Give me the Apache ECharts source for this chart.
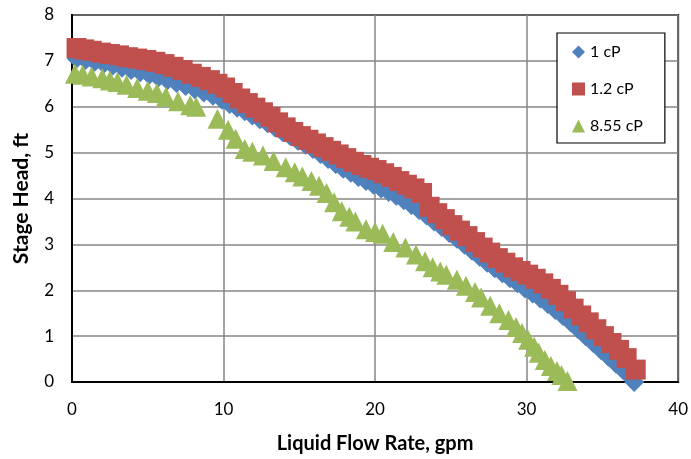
<!DOCTYPE html>
<html>
<head>
<meta charset="utf-8">
<script src="https://cdn.jsdelivr.net/npm/echarts@6/dist/echarts.min.js"></script>
<style>
  html, body { margin: 0; padding: 0; background: #fff; }
  #chart { width: 691px; height: 459px; }
</style>
</head>
<body>
<div id="chart"></div>
<script>
// Stage head vs liquid flow rate for three fluid viscosities
const seriesNames = ['1 cP', '1.2 cP', '8.55 cP'];

// 1 cP: [flow rate gpm, head ft]
const flow1cP = [0.3,0.9,1.5,2.1,2.7,3.3,3.9,4.5,5.1,5.7,6.3,6.9,7.5,8.1,8.7,9.3,9.9,10.4,10.9,11.4,11.9,12.4,12.9,13.4,13.9,14.4,14.9,15.4,15.9,16.4,16.9,17.4,17.9,18.4,18.9,19.4,19.9,20.4,20.9,21.4,21.9,22.4,22.9,23.4,23.9,24.4,24.9,25.4,25.9,26.4,26.9,27.4,27.9,28.4,28.9,29.4,29.9,30.4,30.9,31.4,31.9,32.4,32.9,33.4,33.9,34.4,34.9,35.4,35.9,36.4,36.9,37.1];
const head1cP = [7.05,7.02,6.98,6.94,6.9,6.85,6.8,6.75,6.7,6.64,6.58,6.52,6.45,6.38,6.31,6.24,6.15,6.06,5.98,5.9,5.81,5.73,5.64,5.55,5.45,5.36,5.26,5.17,5.08,4.97,4.86,4.75,4.65,4.56,4.47,4.38,4.3,4.22,4.14,4.06,3.96,3.86,3.75,3.63,3.5,3.38,3.25,3.12,2.99,2.86,2.73,2.6,2.48,2.37,2.26,2.15,2.04,1.93,1.82,1.7,1.57,1.44,1.3,1.15,1.0,0.85,0.7,0.55,0.4,0.25,0.1,0.0];

// 1.2 cP
const flow12cP = [0.3,0.8,1.3,1.9,2.5,3.1,3.7,4.3,4.9,5.5,6.1,6.7,7.3,7.9,8.5,9.1,9.6,10.1,10.6,11.1,11.6,12.1,12.6,13.1,13.6,14.1,14.6,15.1,15.6,16.1,16.6,17.1,17.6,18.1,18.6,19.1,19.6,20.1,20.6,21.1,21.6,22.1,22.6,23.1,23.6,24.1,24.6,25.1,25.6,26.1,26.6,27.1,27.6,28.1,28.6,29.1,29.6,30.1,30.6,31.1,31.6,32.1,32.6,33.1,33.6,34.1,34.6,35.1,35.6,36.1,36.6,37.2];
const head12cP = [7.28,7.25,7.22,7.18,7.15,7.12,7.08,7.05,7.02,6.98,6.93,6.87,6.8,6.72,6.65,6.58,6.5,6.42,6.3,6.18,6.08,5.98,5.88,5.78,5.66,5.55,5.45,5.36,5.28,5.2,5.12,5.04,4.96,4.88,4.8,4.73,4.67,4.62,4.55,4.47,4.38,4.3,4.22,4.12,3.82,3.68,3.55,3.42,3.3,3.18,3.05,2.93,2.82,2.7,2.6,2.5,2.42,2.34,2.25,2.15,2.03,1.9,1.76,1.6,1.45,1.3,1.15,1.0,0.85,0.7,0.52,0.27];

// 8.55 cP
const flow855cP = [0.2,0.7,1.3,2.0,2.5,3.0,3.6,4.3,5.0,5.6,6.2,7.0,7.8,8.2,9.6,10.3,10.8,11.4,11.9,12.6,13.3,14.1,14.7,15.2,15.8,16.3,16.8,17.3,17.8,18.3,18.7,19.4,20.0,20.5,21.2,22.0,22.7,23.3,23.8,24.3,24.7,25.4,26.0,26.6,27.0,27.6,28.2,28.8,29.3,29.7,30.1,30.5,30.8,31.2,31.6,32.0,32.3,32.7];
const head855cP = [6.72,6.7,6.66,6.62,6.57,6.54,6.48,6.41,6.35,6.3,6.22,6.12,6.03,6.0,5.74,5.5,5.3,5.08,5.02,4.94,4.82,4.68,4.57,4.48,4.38,4.28,4.12,3.92,3.72,3.6,3.5,3.33,3.27,3.23,3.05,2.93,2.78,2.63,2.5,2.41,2.34,2.23,2.1,1.96,1.84,1.66,1.5,1.35,1.2,1.07,0.92,0.77,0.64,0.48,0.35,0.24,0.15,0.02];

// Axis ticks
const xTicks = { min: 0, max: 40, interval: 10 };
const yTicks = { min: 0, max: 8, interval: 1 };

const pairs = (xs, ys) => xs.map((x, i) => [x, ys[i]]);

const FONT = 'Lato';
const chart = echarts.init(document.getElementById('chart'), null, { renderer: 'canvas' });

chart.setOption({
  backgroundColor: '#ffffff',
  animation: false,
  textStyle: { fontFamily: FONT },
  grid: {
    left: 72, right: 11, top: 15, bottom: 74,
    show: true, borderColor: '#000', borderWidth: 2, backgroundColor: 'transparent'
  },
  legend: {
    orient: 'vertical',
    left: 557, top: 33,
    backgroundColor: '#fff',
    borderColor: '#000', borderWidth: 1.2,
    padding: [10, 22, 8, 15],
    itemGap: 19,
    itemWidth: 13, itemHeight: 13,
    textStyle: { fontFamily: FONT, fontSize: 16, color: '#000', lineHeight: 18 },
    data: [
      { name: seriesNames[0], icon: 'diamond' },
      { name: seriesNames[1], icon: 'rect' },
      { name: seriesNames[2], icon: 'triangle' }
    ]
  },
  xAxis: {
    type: 'value',
    min: xTicks.min, max: xTicks.max, interval: xTicks.interval,
    name: 'Liquid Flow Rate, gpm',
    nameLocation: 'middle', nameGap: 52,
    nameTextStyle: { fontFamily: FONT, fontSize: 20, fontWeight: 'bold', color: '#000' },
    axisLine: { show: true, onZero: false, lineStyle: { color: '#000', width: 2 } },
    axisTick: { show: false },
    axisLabel: { fontFamily: FONT, fontSize: 17, color: '#000', margin: 19 },
    splitLine: { show: true, lineStyle: { color: '#868686', width: 1.5 } }
  },
  yAxis: {
    type: 'value',
    min: yTicks.min, max: yTicks.max, interval: yTicks.interval,
    name: 'Stage Head, ft',
    nameLocation: 'middle', nameGap: 40,
    nameTextStyle: { fontFamily: FONT, fontSize: 21, fontWeight: 'bold', color: '#000' },
    axisLine: { show: true, onZero: false, lineStyle: { color: '#000', width: 2 } },
    axisTick: { show: false },
    axisLabel: { fontFamily: FONT, fontSize: 17, color: '#000', margin: 18 },
    splitLine: { show: true, lineStyle: { color: '#868686', width: 1.5 } }
  },
  series: [
    {
      name: seriesNames[0], type: 'scatter', symbol: 'diamond', symbolSize: 20,
      itemStyle: { color: '#4F81BD', opacity: 1 },
      data: pairs(flow1cP, head1cP), z: 2
    },
    {
      name: seriesNames[1], type: 'scatter', symbol: 'rect', symbolSize: 20,
      itemStyle: { color: '#C0504D', opacity: 1 },
      data: pairs(flow12cP, head12cP), z: 3
    },
    {
      name: seriesNames[2], type: 'scatter', symbol: 'triangle', symbolSize: 20,
      itemStyle: { color: '#9BBB59', opacity: 1 },
      data: pairs(flow855cP, head855cP), z: 4
    }
  ]
});
</script>
</body>
</html>
